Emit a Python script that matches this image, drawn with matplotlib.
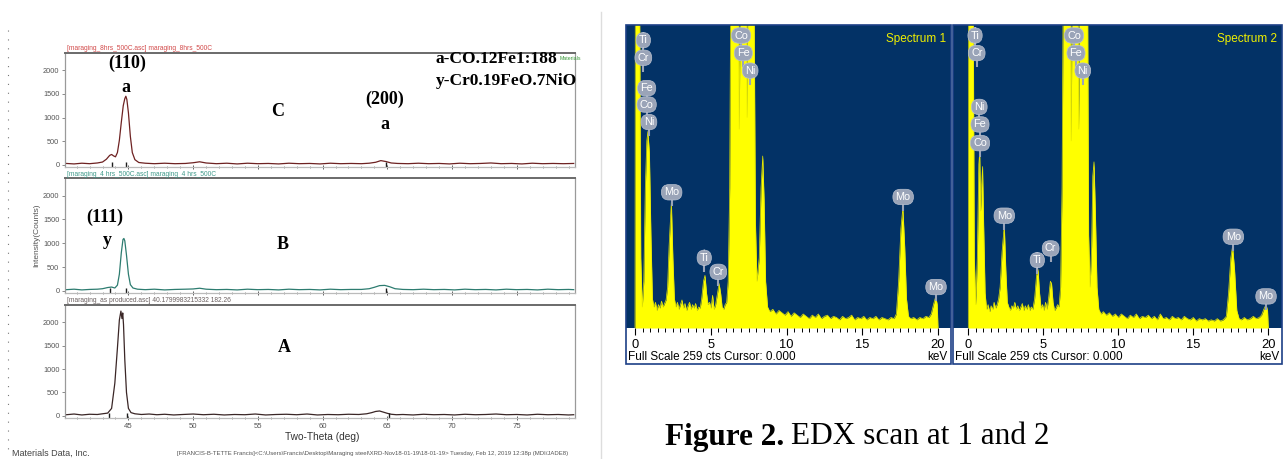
import matplotlib
matplotlib.use("Agg")
import matplotlib.pyplot as plt
from matplotlib.lines import Line2D
from matplotlib.patches import Rectangle

# ---------------- data ----------------
# XRD patterns: (two-theta deg, counts)
xrd_C = [(40.2,30),(40.8,20),(41.4,35),(42.0,25),(42.6,40),(43.0,60),(43.3,120),(43.55,200),(43.7,220),
         (43.85,190),(44.0,170),(44.15,260),(44.3,520),(44.45,900),(44.6,1250),(44.72,1400),(44.8,1450),
         (44.88,1380),(45.0,1100),(45.15,600),(45.3,260),(45.5,110),(45.8,50),(46.3,35),(47.0,25),(47.8,35),
         (48.6,25),(49.4,30),(50.0,45),(50.5,65),(51.0,40),(51.8,25),(52.6,35),(53.4,20),(54.2,35),(55.0,25),
         (55.8,30),(56.6,20),(57.4,35),(58.2,25),(59.0,30),(59.8,20),(60.6,35),(61.4,25),(62.2,30),(63.0,25),
         (63.6,35),(64.1,55),(64.5,90),(64.9,70),(65.3,40),(65.8,30),(66.6,25),(67.4,35),(68.2,25),(69.0,30),
         (69.8,20),(70.6,35),(71.4,25),(72.2,30),(73.0,40),(73.8,25),(74.6,30),(75.4,20),(76.2,35),(77.0,25),
         (77.8,30),(78.6,25),(79.4,30)]
xrd_B = [(40.2,25),(40.8,35),(41.4,20),(42.0,30),(42.6,35),(43.0,45),(43.4,70),(43.7,80),(43.95,60),(44.15,120),
         (44.3,350),(44.45,800),(44.58,1080),(44.65,1100),(44.72,1050),(44.85,750),(45.0,350),(45.15,130),
         (45.35,60),(45.7,35),(46.3,25),(47.0,35),(47.8,20),(48.6,30),(49.4,35),(50.0,40),(50.5,55),(51.0,35),
         (51.8,25),(52.6,30),(53.4,20),(54.2,35),(55.0,25),(55.8,30),(56.6,20),(57.4,35),(58.2,25),(59.0,30),
         (59.8,20),(60.6,35),(61.4,25),(62.2,30),(63.0,30),(63.6,45),(64.0,75),(64.4,110),(64.8,115),(65.2,85),
         (65.6,45),(66.2,30),(67.0,25),(67.8,35),(68.6,25),(69.4,30),(70.2,20),(71.0,35),(71.8,25),(72.6,30),
         (73.4,20),(74.2,35),(75.0,25),(75.8,30),(76.6,20),(77.4,35),(78.2,25),(79.0,30),(79.4,25)]
xrd_A = [(40.2,25),(40.8,40),(41.4,20),(42.0,35),(42.6,30),(43.0,45),(43.4,60),(43.7,160),(43.95,700),
         (44.15,1450),(44.3,2050),(44.42,2240),(44.5,2080),(44.56,2200),(44.62,1950),(44.72,1200),(44.85,500),
         (45.0,160),(45.2,70),(45.5,45),(46.0,30),(46.6,40),(47.2,25),(47.8,35),(48.5,20),(49.2,30),(50.0,40),
         (50.8,25),(51.6,35),(52.4,20),(53.2,30),(54.0,25),(54.8,40),(55.6,20),(56.4,30),(57.2,35),(58.0,25),
         (58.8,40),(59.6,20),(60.4,30),(61.2,25),(62.0,35),(62.8,30),(63.4,45),(63.8,70),(64.1,95),(64.4,105),
         (64.7,80),(65.0,55),(65.3,35),(65.7,25),(66.2,30),(67.0,20),(67.8,35),(68.6,25),(69.4,30),(70.2,20),
         (71.0,35),(71.8,25),(72.6,30),(73.4,40),(74.2,25),(75.0,30),(75.8,20),(76.6,35),(77.4,25),(78.2,30),
         (79.0,20),(79.4,25)]
xrd_headers = ["[maraging_8hrs_500C.asc] maraging_8hrs_500C",
               "[maraging_4 hrs_500C.asc] maraging_4 hrs_500C",
               "[maraging_as produced.asc] 40.1799983215332 182.26"]
xrd_peak_marks_C = [43.7, 44.8, 64.9]
xrd_peak_marks_B = [43.6, 44.85, 64.9]
xrd_peak_marks_A = [43.5, 44.9, 65.1]
xrd_yticks = [0, 500, 1000, 1500, 2000]
xrd_xticks = [45, 50, 55, 60, 65, 70, 75]

# EDX spectra: (keV, counts); counts above full scale are clipped
edx_1 = [(0.0,0),(0.02,300),(0.3,300),(0.38,60),(0.48,18),(0.58,40),(0.68,120),(0.78,160),(0.85,168),(0.95,150),
         (1.05,80),(1.15,25),(1.25,18),(1.35,22),(1.45,15),(1.55,20),(1.65,17),(1.75,23),(1.85,18),(1.95,21),
         (2.05,24),(2.15,35),(2.25,70),(2.4,108),(2.5,60),(2.6,25),(2.7,18),(2.8,22),(2.9,16),(3.0,20),(3.1,24),
         (3.2,17),(3.3,21),(3.4,15),(3.5,19),(3.6,22),(3.7,16),(3.8,20),(3.9,17),(4.0,21),(4.1,15),(4.2,18),
         (4.3,17),(4.4,25),(4.52,40),(4.62,45),(4.72,30),(4.82,20),(4.92,22),(5.02,17),(5.12,28),(5.22,16),
         (5.32,20),(5.45,30),(5.55,38),(5.65,30),(5.75,18),(5.85,16),(5.95,20),(6.05,22),(6.15,40),(6.25,120),
         (6.32,300),(6.82,300),(6.88,170),(6.95,300),(7.35,300),(7.4,180),(7.45,300),(7.85,300),(7.95,90),
         (8.05,40),(8.2,60),(8.32,120),(8.43,147),(8.52,110),(8.62,40),(8.75,18),(8.9,14),(9.1,16),(9.3,12),
         (9.5,15),(9.7,13),(9.9,11),(10.1,14),(10.3,10),(10.5,13),(10.7,11),(10.9,9),(11.1,12),(11.3,10),
         (11.5,8),(11.7,11),(11.9,9),(12.1,12),(12.3,8),(12.5,10),(12.7,11),(12.9,8),(13.1,10),(13.3,9),
         (13.5,7),(13.7,10),(13.9,8),(14.1,9),(14.3,11),(14.5,7),(14.7,9),(14.9,8),(15.1,10),(15.3,7),(15.5,9),
         (15.7,8),(15.9,10),(16.1,7),(16.3,9),(16.5,8),(16.7,7),(16.9,9),(17.1,8),(17.25,12),(17.4,40),
         (17.55,85),(17.68,103),(17.8,70),(17.92,25),(18.05,10),(18.2,8),(18.4,9),(18.6,7),(18.8,9),(19.0,8),
         (19.2,10),(19.4,9),(19.55,12),(19.7,20),(19.85,27),(19.95,20),(20.0,0)]
edx_2 = [(0.0,0),(0.02,300),(0.32,300),(0.4,60),(0.5,20),(0.6,60),(0.7,140),(0.76,151),(0.82,100),(0.88,120),
         (0.95,138),(1.02,90),(1.12,30),(1.22,16),(1.32,20),(1.42,14),(1.52,19),(1.62,16),(1.72,22),(1.82,17),
         (1.92,20),(2.02,25),(2.12,35),(2.25,65),(2.4,88),(2.5,50),(2.6,22),(2.7,18),(2.8,15),(2.9,19),(3.0,17),
         (3.1,22),(3.2,16),(3.3,19),(3.4,15),(3.5,18),(3.6,21),(3.7,15),(3.8,19),(3.9,16),(4.0,20),(4.1,15),
         (4.2,18),(4.3,16),(4.42,25),(4.55,45),(4.65,50),(4.75,30),(4.85,17),(4.95,20),(5.05,15),(5.15,22),
         (5.25,16),(5.35,25),(5.47,40),(5.55,38),(5.65,22),(5.75,15),(5.85,17),(5.95,20),(6.05,18),(6.15,35),
         (6.25,120),(6.33,300),(6.8,300),(6.86,160),(6.92,300),(7.3,300),(7.36,170),(7.42,300),(7.95,300),
         (8.02,80),(8.12,35),(8.22,70),(8.3,130),(8.38,142),(8.47,100),(8.58,35),(8.7,16),(8.85,12),(9.0,14),
         (9.2,11),(9.4,13),(9.6,10),(9.8,12),(10.0,9),(10.2,12),(10.4,10),(10.6,8),(10.8,11),(11.0,9),(11.2,12),
         (11.4,8),(11.6,10),(11.8,9),(12.0,11),(12.2,8),(12.4,10),(12.6,7),(12.8,12),(13.0,8),(13.2,9),(13.4,7),
         (13.6,10),(13.8,8),(14.0,9),(14.2,7),(14.4,10),(14.6,8),(14.8,7),(15.0,9),(15.2,6),(15.4,8),(15.6,7),
         (15.8,8),(16.0,6),(16.2,7),(16.4,6),(16.6,8),(16.8,6),(17.0,7),(17.2,10),(17.35,30),(17.5,60),
         (17.62,70),(17.75,50),(17.9,15),(18.05,8),(18.2,7),(18.4,9),(18.6,7),(18.8,8),(19.0,10),(19.2,8),
         (19.4,9),(19.55,11),(19.7,16),(19.85,20),(19.95,15),(20.0,0)]
edx_labels_1 = [("Ti",0.55,246),("Cr",0.55,231),("Fe",0.77,205),("Co",0.77,191),("Ni",0.92,176),
                ("Co",7.0,250),("Fe",7.15,235),("Ni",7.6,220),("Mo",2.42,116),("Mo",17.7,112),
                ("Ti",4.57,60),("Cr",5.5,48),("Mo",19.87,35)]
edx_labels_2 = [("Ti",0.45,250),("Cr",0.56,235),("Ni",0.73,189),("Fe",0.78,174),("Co",0.78,158),
                ("Co",7.05,250),("Fe",7.18,235),("Ni",7.63,220),("Mo",2.4,96),("Ti",4.6,58),
                ("Cr",5.49,68),("Mo",17.67,78),("Mo",19.85,27)]
edx_titles = ["Spectrum 1", "Spectrum 2"]
edx_full_scale = 259
edx_xticks = [0, 5, 10, 15, 20]

# ---------------- figure ----------------
W, H = 1285, 459
fig = plt.figure(figsize=(W / 100, H / 100), dpi=100)
fig.patch.set_facecolor("white")


def px_axes(x0, y0, x1, y1):
    return fig.add_axes([x0 / W, 1 - y1 / H, (x1 - x0) / W, (y1 - y0) / H])


def ftext(x, y, s, **kw):
    return fig.text(x / W, 1 - y / H, s, **kw)


SERIF = "Liberation Serif"
SANS = "Liberation Sans"

# ----- XRD panels -----
panels = [
    (xrd_C, (52.7, 167), "#6e2222", "#d24a4a", xrd_peak_marks_C, 49),
    (xrd_B, (178, 293), "#2d7c70", "#3f9a8a", xrd_peak_marks_B, 174),
    (xrd_A, (305, 418), "#3a2626", "#6a6060", xrd_peak_marks_A, 300),
]
for i, (data, (yt, yb), lc, hc, marks, hy) in enumerate(panels):
    ax = px_axes(65, yt, 575, yb)
    xs = [p[0] for p in data]
    ys = [p[1] for p in data]
    ax.plot(xs, ys, color=lc, lw=0.9)
    ax.plot(marks, [0] * len(marks), linestyle="none", marker="|", ms=5, mew=1.0,
            color="#1d1d1d")
    ax.set_xlim(40.1, 79.5)
    ax.set_ylim(-45, 2370)
    ax.set_yticks(xrd_yticks)
    ax.set_yticklabels([str(t) for t in xrd_yticks], fontsize=5.3, color="#555555", family=SANS)
    ax.set_xticks(xrd_xticks)
    ax.set_xticks([x for x in range(41, 80)], minor=True)
    ax.tick_params(axis="y", length=2, width=0.6, color="#777777", pad=2)
    ax.tick_params(axis="x", which="major", length=3, width=0.6, color="#444444", direction="inout")
    ax.tick_params(axis="x", which="minor", length=2, width=0.5, color="#666666", direction="inout")
    if i < 2:
        ax.set_xticklabels([])
    else:
        ax.set_xticklabels([str(t) for t in xrd_xticks], fontsize=5.6, color="#555555", family=SANS)
        ax.tick_params(axis="x", pad=2)
    for side, sp in ax.spines.items():
        sp.set_color("#9a9a9a")
        sp.set_linewidth(0.9)
    ax.spines["top"].set_color("#6a6a6a")
    ax.spines["top"].set_linewidth(1.4)
    ax.spines["bottom"].set_color("#bbbbbb")
    ftext(67, hy, xrd_headers[i], fontsize=4.8, color=hc, family=SANS, va="center")

# XRD annotations
bold = dict(family=SERIF, fontweight="bold", fontsize=13, color="black", ha="center", va="center")
ftext(127, 63, "(110)", **bold)
ftext(126, 88, "a", **bold)
ftext(278, 112, "C", **bold)
ftext(385, 99, "(200)", **bold)
ftext(385, 124, "a", **bold)
t_a = ftext(436, 59, "a-CO.12Fe1:188", **{**bold, "ha": "left", "fontsize": 12.5})
ftext(436, 81, "y-Cr0.19FeO.7NiO", **{**bold, "ha": "left", "fontsize": 12.5})
fig.canvas.draw()
bb_a = t_a.get_window_extent()
fig.text(bb_a.x1 / W + 2 / W, 1 - 58 / H, "Materials", fontsize=3.8, color="#3a9a3a", family=SANS,
         va="center")
ftext(105, 217, "(111)", **bold)
ftext(107, 241, "y", **bold)
ftext(283, 244, "B", **bold)
ftext(284, 347, "A", **bold)

ftext(37, 235, "Intensity(Counts)", rotation=90, fontsize=6, color="#555555", family=SANS,
      ha="center", va="center")
ftext(322, 437, "Two-Theta (deg)", fontsize=7.3, color="#333333", family=SANS, ha="center", va="center")
ftext(12, 453, "Materials Data, Inc.", fontsize=6.5, color="#444444", family=SANS, va="center")
ftext(177, 453, "[FRANCIS-B-TETTE Francis]<C:\\Users\\Francis\\Desktop\\Maraging steel\\XRD-Nov18-01-19\\18-01-19> "
      "Tuesday, Feb 12, 2019 12:38p (MDI/JADE8)", fontsize=4.3, color="#555555", family=SANS, va="center")

# left dotted edge and right border of the XRD picture
fig.add_artist(Line2D([8 / W, 8 / W], [1 - 30 / H, 1 - 455 / H], transform=fig.transFigure,
                      color="#777777", lw=0.8, linestyle=(0, (1, 7))))
fig.add_artist(Line2D([601 / W, 601 / W], [1 - 12 / H, 0], transform=fig.transFigure,
                      color="#dddddd", lw=1.0))

# ----- EDX panels -----
NAVY = "#033266"
boxes = [
    (edx_1, edx_labels_1, (626, 951), (635, 15.15)),
    (edx_2, edx_labels_2, (953, 1282), (968.3, 15.0)),
]
for j, (data, labels, (bx0, bx1), (zero_px, ppk)) in enumerate(boxes):
    ax = px_axes(bx0, 25, bx1, 328)
    ax.set_facecolor(NAVY)
    xs = [p[0] for p in data]
    ys = [p[1] for p in data]
    ax.fill_between(xs, ys, 0, color="#ffff00", lw=0)
    ax.plot(xs, ys, color="#e6e600", lw=0.5)
    ax.set_xlim((bx0 - zero_px) / ppk, (bx1 - zero_px) / ppk)
    ax.set_ylim(0, edx_full_scale)
    ax.set_yticks([])
    ax.set_xticks(edx_xticks)
    ax.set_xticks([k / 2 for k in range(0, 41)], minor=True)
    ax.set_xticklabels([str(t) for t in edx_xticks], fontsize=9.3, family=SANS, color="black")
    ax.tick_params(axis="x", which="major", length=5, width=0.8, direction="out", pad=3, color="black")
    ax.tick_params(axis="x", which="minor", length=3, width=0.7, direction="out", color="black")
    for sp in ax.spines.values():
        sp.set_visible(False)
    ax.text(0.985, 0.975, edx_titles[j], transform=ax.transAxes, ha="right", va="top",
            fontsize=8.5, color="#f0f000", family=SANS)
    for name, k, c in labels:
        ax.plot([k, k], [c - 6, c - 12], color="#9aa4b8", lw=1.5, solid_capstyle="butt")
        ax.text(k, c, name, ha="center", va="center", fontsize=7.8, color="white", family=SANS,
                bbox=dict(boxstyle="round,pad=0.25,rounding_size=0.7", fc="#9aa4b8", ec="#b8c0cf", lw=0.5))
    # whole-box border
    fig.add_artist(Rectangle((bx0 / W, 1 - 364 / H), (bx1 - bx0) / W, (364 - 25) / H,
                             transform=fig.transFigure, fill=False, ec="#1c3f86", lw=1.2))
    ftext(bx0 + 2, 357, "Full Scale 259 cts Cursor: 0.000", fontsize=8.5, family=SANS, color="black",
          va="center")
    ftext(bx1 - 3, 357, "keV", fontsize=8.5, family=SANS, color="black", va="center", ha="right")

# caption
t1 = ftext(665, 437, "Figure 2.", fontsize=22.5, family=SERIF, fontweight="bold", va="center")
fig.canvas.draw()
bb = t1.get_window_extent()
ftext(bb.x1 + 7, 437, "EDX scan at 1 and 2", fontsize=22.5, family=SERIF, va="center")

fig.savefig("out.png", dpi=100, facecolor="white")
